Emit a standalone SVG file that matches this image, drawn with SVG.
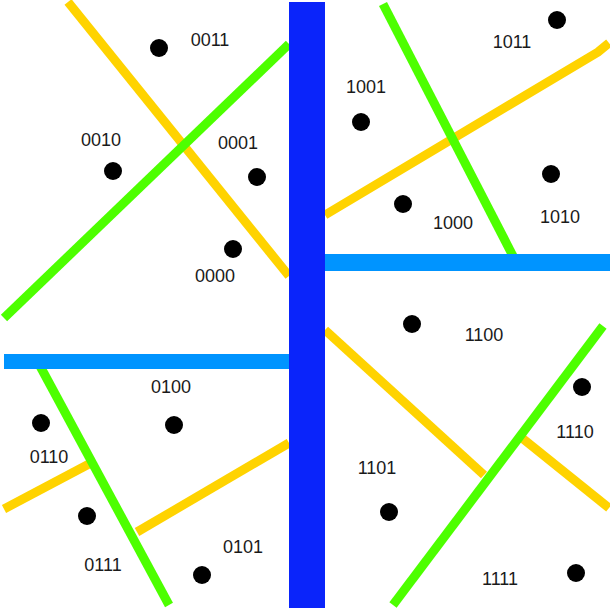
<svg xmlns="http://www.w3.org/2000/svg" width="610" height="614" viewBox="0 0 610 614">
<style>
.y{stroke:#ffd300;stroke-width:9;fill:none}
.g{stroke:#4dff00;stroke-width:9;fill:none}
.lb{fill:#0094ff}
.vb{fill:#0a24fa}
.dot{fill:#000}
text{font-family:"Liberation Sans",Arial,sans-serif;font-size:18px;fill:#1a1a1a;text-anchor:middle}
</style>
<rect width="610" height="614" fill="#fff"/>
<g id="connectors">
<line class="y" x1="68" y1="2" x2="289" y2="276"/>
<polyline class="y" points="325,215 598,52 609,43"/>
<line class="y" x1="4" y1="509" x2="89" y2="464"/>
<line class="y" x1="137" y1="532" x2="289" y2="443"/>
<line class="y" x1="325" y1="330" x2="484" y2="475"/>
<line class="y" x1="522" y1="438" x2="609" y2="508"/>
<line class="g" x1="4" y1="318" x2="289" y2="44"/>
<line class="g" x1="383" y1="4" x2="513" y2="256"/>
<line class="g" x1="40" y1="366" x2="169" y2="605"/>
<line class="g" x1="603" y1="326" x2="393" y2="605"/>
<rect class="lb" x="325" y="254" width="285" height="17"/>
<rect class="lb" x="4" y="354" width="285" height="15"/>
<rect class="vb" x="289" y="2" width="36" height="606"/>
</g>
<g id="n0011"><circle class="dot" cx="159" cy="48" r="9"/><text x="210" y="46">0011</text></g>
<g id="n0010"><circle class="dot" cx="113" cy="171" r="9"/><text x="101" y="146">0010</text></g>
<g id="n0001"><circle class="dot" cx="257" cy="177" r="9"/><text x="238" y="149">0001</text></g>
<g id="n0000"><circle class="dot" cx="233" cy="249" r="9"/><text x="215" y="282">0000</text></g>
<g id="n1011"><circle class="dot" cx="557" cy="20" r="9"/><text x="512" y="48">1011</text></g>
<g id="n1001"><circle class="dot" cx="361" cy="122" r="9"/><text x="366" y="93">1001</text></g>
<g id="n1000"><circle class="dot" cx="403" cy="204" r="9"/><text x="453" y="229">1000</text></g>
<g id="n1010"><circle class="dot" cx="551" cy="174" r="9"/><text x="560" y="223">1010</text></g>
<g id="n0100"><circle class="dot" cx="174" cy="425" r="9"/><text x="171" y="393">0100</text></g>
<g id="n0110"><circle class="dot" cx="41" cy="423" r="9"/><text x="49" y="463">0110</text></g>
<g id="n0111"><circle class="dot" cx="87" cy="516" r="9"/><text x="103" y="571">0111</text></g>
<g id="n0101"><circle class="dot" cx="202" cy="575" r="9"/><text x="243" y="553">0101</text></g>
<g id="n1100"><circle class="dot" cx="412" cy="324" r="9"/><text x="484" y="341">1100</text></g>
<g id="n1110"><circle class="dot" cx="582" cy="387" r="9"/><text x="575" y="438">1110</text></g>
<g id="n1101"><circle class="dot" cx="389" cy="512" r="9"/><text x="377" y="474">1101</text></g>
<g id="n1111"><circle class="dot" cx="576" cy="573" r="9"/><text x="500" y="585">1111</text></g>
</svg>
